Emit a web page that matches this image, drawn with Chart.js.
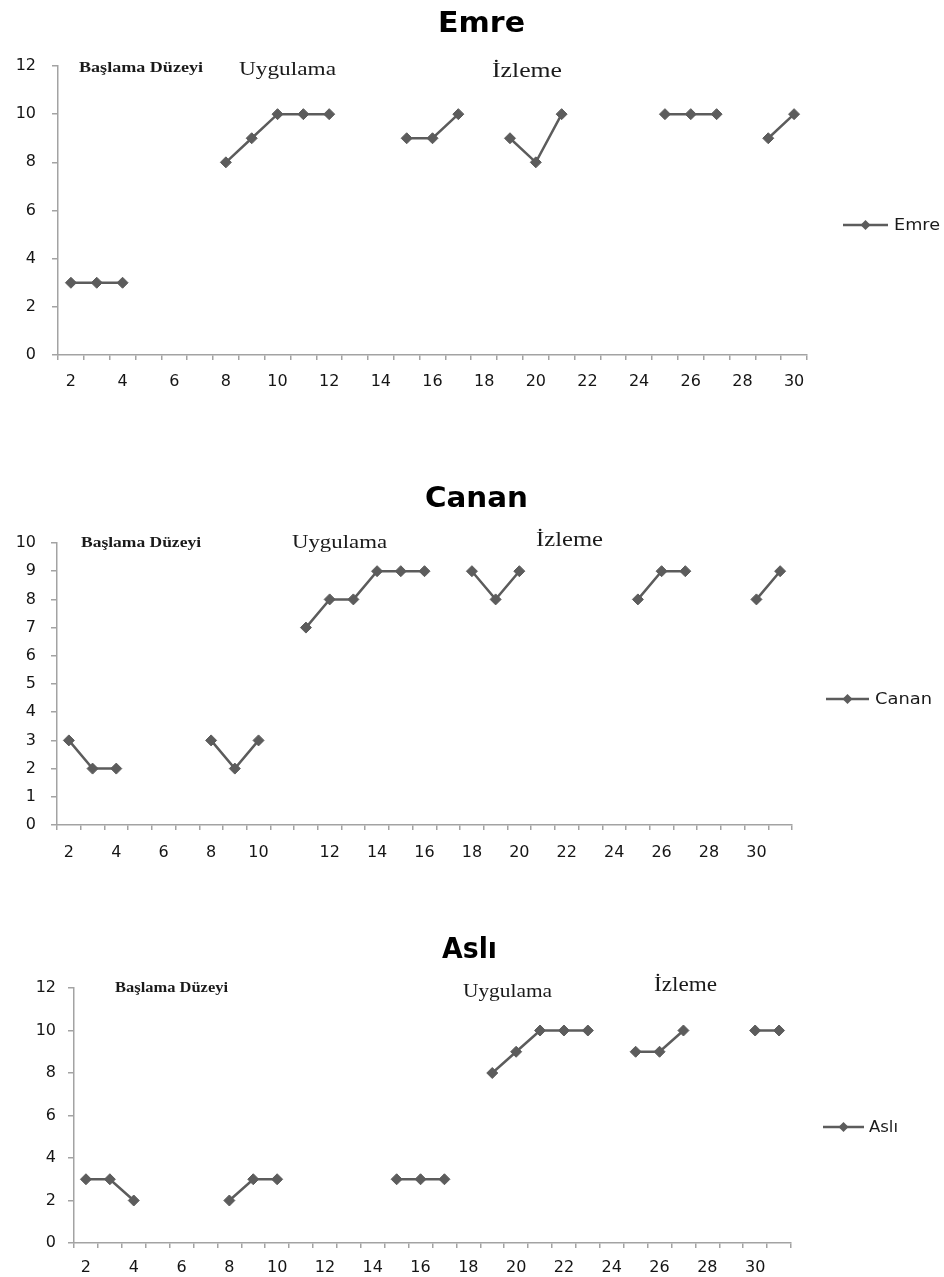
<!DOCTYPE html>
<html><head><meta charset="utf-8">
<script src="https://cdn.jsdelivr.net/npm/chart.js@4.4.1/dist/chart.umd.min.js"></script>
<style>
html,body{margin:0;padding:0;background:#fff;}
body{width:944px;height:1277px;position:relative;overflow:hidden;}
canvas{position:absolute;left:0;}
</style></head><body>
<canvas id="c1" width="944" height="420" style="top:0px"></canvas>
<canvas id="c2" width="944" height="440" style="top:440px"></canvas>
<canvas id="c3" width="944" height="410" style="top:880px"></canvas>
<script>
// ---------- DATA ----------
const emreLabels  = ['2','','4','','6','','8','','10','','12','','14','','16','','18','','20','','22','','24','','26','','28','','30'];
const emreValues  = [3,3,3,null,null,null,8,9,10,10,10,null,null,9,9,10,null,9,8,10,null,null,null,10,10,10,null,9,10];

const cananLabels = ['2','','4','','6','','8','','10','','','12','','14','','16','','18','','20','','22','','24','','26','','28','','30',''];
const cananValues = [3,2,2,null,null,null,3,2,3,null,7,8,8,9,9,9,null,9,8,9,null,null,null,null,8,9,9,null,null,8,9];

const asliLabels  = ['2','','4','','6','','8','','10','','12','','14','','16','','18','','20','','22','','24','','26','','28','','30',''];
const asliValues  = [3,3,2,null,null,null,2,3,3,null,null,null,null,3,3,3,null,8,9,10,10,10,null,9,9,10,null,null,10,10];

const phaseTexts = ['Başlama Düzeyi','Uygulama','İzleme'];

// ---------- STYLE ----------
const SERIES = '#5c5c5c';
const AXIS = '#a3a3a3';
const TICKFONT = {family:'DejaVu Sans', size:16};

function fitText(ctx, t){
  ctx.save();
  ctx.font = t.font;
  ctx.fillStyle = t.color || '#111';
  ctx.textAlign = 'left';
  ctx.textBaseline = 'alphabetic';
  const w = ctx.measureText(t.text).width;
  ctx.translate(t.x, t.y);
  ctx.scale(t.width / w, 1);
  ctx.fillText(t.text, 0, 0);
  ctx.restore();
}

const decor = {
  id:'decor',
  afterDraw(chart, args, o){
    const ctx = chart.ctx;
    const T = o.top;
    (o.texts||[]).forEach(t => fitText(ctx, Object.assign({}, t, {y:t.y - T})));
    const L = o.legend;
    if (L){
      const y = L.y - T;
      ctx.save();
      ctx.strokeStyle = SERIES; ctx.lineWidth = 2.5;
      ctx.beginPath(); ctx.moveTo(L.x1, y); ctx.lineTo(L.x2, y); ctx.stroke();
      const cx = (L.x1 + L.x2)/2, r = 5;
      ctx.fillStyle = SERIES;
      ctx.beginPath(); ctx.moveTo(cx, y-r); ctx.lineTo(cx+r, y); ctx.lineTo(cx, y+r); ctx.lineTo(cx-r, y); ctx.closePath(); ctx.fill();
      ctx.restore();
      fitText(ctx, {text: chart.data.datasets[0].label, x:L.tx, width:L.tw, y:L.ty - T, font:'16px DejaVu Sans', color:'#1a1a1a'});
    }
  }
};

function makeChart(id, name, labels, values, cfg){
  return new Chart(document.getElementById(id), {
    type:'line',
    data:{labels:labels, datasets:[{
      label:name, data:values, borderColor:SERIES, borderWidth:2.5,
      pointStyle:'rectRot', pointRadius:5.5, pointBackgroundColor:SERIES, pointBorderColor:SERIES, pointBorderWidth:1,
      spanGaps:false, tension:0, fill:false
    }]},
    options:{
      responsive:false, animation:false, devicePixelRatio:1,
      layout:{padding:cfg.pad},
      plugins:{legend:{display:false}, tooltip:{enabled:false}, title:{display:false},
        decor:{top:cfg.top, texts:cfg.texts, legend:cfg.legend}},
      scales:{
        x:{type:'category', offset:true,
          grid:{offset:true, drawOnChartArea:false, drawTicks:true, tickLength:5, color:AXIS, lineWidth:1.5},
          border:{color:AXIS, width:1.5},
          ticks:{autoSkip:false, maxRotation:0, minRotation:0, padding:cfg.xpad, color:'#151515', font:TICKFONT},
          afterFit(s){ s.height = 40; }
        },
        y:{min:0, max:cfg.ymax,
          grid:{drawOnChartArea:false, drawTicks:true, tickLength:6, color:AXIS, lineWidth:1.5},
          border:{color:AXIS, width:1.5},
          ticks:{stepSize:cfg.ystep, padding:cfg.ypad, color:'#151515', font:TICKFONT},
          afterFit(s){ s.width = 50; }
        }
      }
    },
    plugins:[decor]
  });
}

makeChart('c1','Emre',emreLabels,emreValues,{
  top:0, pad:{left:8, right:137, top:66, bottom:25}, ymax:12, ystep:2, xpad:12, ypad:16,
  texts:[
    {text:'Emre', x:438, width:87, y:32, font:'bold 28px DejaVu Sans', color:'#000'},
    {text:phaseTexts[0], x:79, width:124, y:72, font:'bold 15px Liberation Serif', color:'#1a1a1a'},
    {text:phaseTexts[1], x:239, width:97, y:75, font:'19px Liberation Serif', color:'#1a1a1a'},
    {text:phaseTexts[2], x:492, width:70, y:77, font:'20px Liberation Serif', color:'#1a1a1a'}
  ],
  legend:{x1:843, x2:888, y:225, tx:894, tw:46, ty:230}
});

makeChart('c2','Canan',cananLabels,cananValues,{
  top:440, pad:{left:7, right:152, top:103, bottom:15}, ymax:10, ystep:1, xpad:13, ypad:15,
  texts:[
    {text:'Canan', x:425, width:103, y:507, font:'bold 28px DejaVu Sans', color:'#000'},
    {text:phaseTexts[0], x:81, width:120, y:547, font:'bold 15px Liberation Serif', color:'#1a1a1a'},
    {text:phaseTexts[1], x:292, width:95, y:548, font:'19px Liberation Serif', color:'#1a1a1a'},
    {text:phaseTexts[2], x:536, width:67, y:546, font:'20px Liberation Serif', color:'#1a1a1a'}
  ],
  legend:{x1:826, x2:869, y:699, tx:875, tw:57, ty:704}
});

makeChart('c3','Aslı',asliLabels,asliValues,{
  top:880, pad:{left:24, right:153, top:108, bottom:7}, ymax:12, ystep:2, xpad:10, ypad:12,
  texts:[
    {text:'Aslı', x:442, width:55, y:958, font:'bold 28px DejaVu Sans', color:'#000'},
    {text:phaseTexts[0], x:115, width:113, y:992, font:'bold 15px Liberation Serif', color:'#1a1a1a'},
    {text:phaseTexts[1], x:463, width:89, y:997, font:'19px Liberation Serif', color:'#1a1a1a'},
    {text:phaseTexts[2], x:654, width:63, y:991, font:'20px Liberation Serif', color:'#1a1a1a'}
  ],
  legend:{x1:823, x2:864, y:1127, tx:869, tw:29, ty:1132}
});
</script>
</body></html>
